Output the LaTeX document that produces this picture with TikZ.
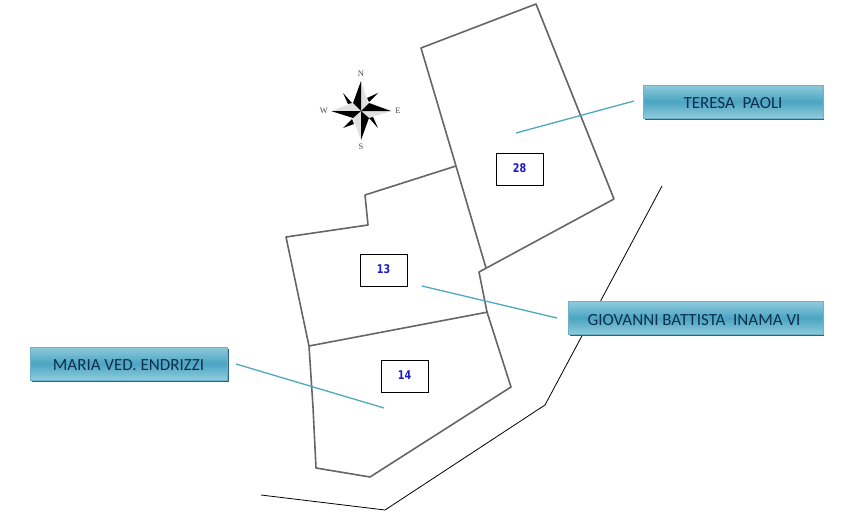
\documentclass[tikz,border=0pt]{standalone}
\usepackage{fontspec}
\setmainfont{Carlito}
\newfontfamily\numfont[FakeStretch=0.8]{DejaVu Sans}
\newfontfamily\starfont{Liberation Serif}
\definecolor{btnlight}{HTML}{8FCBDD}
\definecolor{btnmid}{HTML}{4BA5C1}
\definecolor{btnedge}{HTML}{6DB3C8}
\definecolor{btntext}{HTML}{0F2F4F}
\definecolor{btnshadow}{HTML}{2D6476}
\definecolor{leadcol}{HTML}{4FA9BC}
\definecolor{numblue}{HTML}{1C1CC8}
\definecolor{parcelgrey}{HTML}{666666}
\newcommand{\nametext}[1]{\raisebox{-3pt}[11pt][3pt]{#1}}
\newcommand{\numtext}[1]{\raisebox{1pt}[8pt][0pt]{#1}}
\begin{document}
\begin{tikzpicture}[x=1pt,y=-1pt,
  parcel/.style={draw=parcelgrey,line width=1.6pt,line join=round},
  road/.style={draw=black,line width=0.8pt},
  leader/.style={draw=leadcol,line width=1.3pt},
  numbox/.style={draw=black,line width=0.9pt,fill=white,minimum width=47pt,minimum height=32pt,inner sep=0pt,
    font=\numfont\bfseries\fontsize{12}{14}\selectfont,text=numblue},
  namebox/.style={draw=btnedge,line width=0.6pt,inner sep=0pt,top color=btnlight,bottom color=btnlight,middle color=btnmid,
    text=btntext,font=\fontsize{17}{19}\selectfont,minimum height=33pt},
  starlabel/.style={font=\starfont\fontsize{8.5}{10}\selectfont,inner sep=0pt,text=black!70},
  blackpt/.style={fill=black,draw=none},
  greypt/.style={fill=black!12,draw=none}]
\useasboundingbox (0,0) rectangle (848,519);
\fill[white] (0,0) rectangle (848,519);

% road
\coordinate (r1) at (662,186); \coordinate (r2) at (545,405);
\coordinate (r3) at (385,510); \coordinate (r4) at (261,495);
\draw[road] (r1) -- (r2) -- (r3) -- (r4);

% parcels
\draw[parcel] (486,268) -- (456,166) -- (421,48) -- (536,4) -- (614,199) -- (479,272) -- (487,312) -- (511,387) -- (370,477) -- (316,468) -- (313,407) -- (309,346) -- (286,237) -- (368,225) -- (365,195) -- (456,166);
\draw[parcel] (309,346) -- (488,312);

% number boxes
\node[numbox] (n28) at (519.5,169.5) {\numtext{28}};
\node[numbox] (n13) at (383.5,270) {\numtext{13}};
\node[numbox] (n14) at (404.5,376) {\numtext{14}};

% name boxes
\fill[btnshadow] (645,88) rectangle (824,120);
\fill[btnshadow] (570,304) rectangle (824,336);
\fill[btnshadow] (32,349) rectangle (229,382);
\node[namebox,minimum width=180pt] (teresa) at (733,101.5) {\nametext{TERESA\ \ PAOLI}};
\node[namebox,minimum width=255pt] (giov) at (695.5,318) {\nametext{\hspace*{-3pt}GIOVANNI BATTISTA\ \ INAMA VI}};
\node[namebox,minimum width=197pt] (maria) at (128.5,363.5) {\nametext{MARIA VED. ENDRIZZI}};

% leaders
\coordinate (t1) at (634,101); \coordinate (t2) at (516,133);
\coordinate (g1) at (557,318); \coordinate (g2) at (422,286);
\coordinate (m1) at (236,364); \coordinate (m2) at (384,408);
\draw[leader] (t1) -- (t2);
\draw[leader] (g1) -- (g2);
\draw[leader] (m1) -- (m2);

% compass rose
\coordinate (c) at (361,111);
\fill[greypt] (c) -- (361,81) -- (368,103) -- cycle;
\fill[greypt] (c) -- (391,111) -- (369,118) -- cycle;
\fill[greypt] (c) -- (361,140) -- (353,118) -- cycle;
\fill[greypt] (c) -- (331,111) -- (353,103) -- cycle;
\fill[blackpt] (c) -- (361,81) -- (353,103) -- cycle;
\fill[blackpt] (c) -- (391,111) -- (369,103) -- cycle;
\fill[blackpt] (c) -- (361,140) -- (369,118) -- cycle;
\fill[blackpt] (c) -- (331,111) -- (353,118) -- cycle;
\fill[blackpt] (343,93) -- (352,103) -- (348,104) -- cycle;
\fill[blackpt] (378,93) -- (369,102) -- (367,98) -- cycle;
\fill[blackpt] (378,128) -- (369,118) -- (373,117) -- cycle;
\fill[blackpt] (343,128) -- (352,119) -- (354,124) -- cycle;
\node[starlabel] (lN) at (361,74) {N};
\node[starlabel] (lS) at (361,147) {S};
\node[starlabel] (lW) at (324,111) {W};
\node[starlabel] (lE) at (398,111) {E};
\end{tikzpicture}
\end{document}
